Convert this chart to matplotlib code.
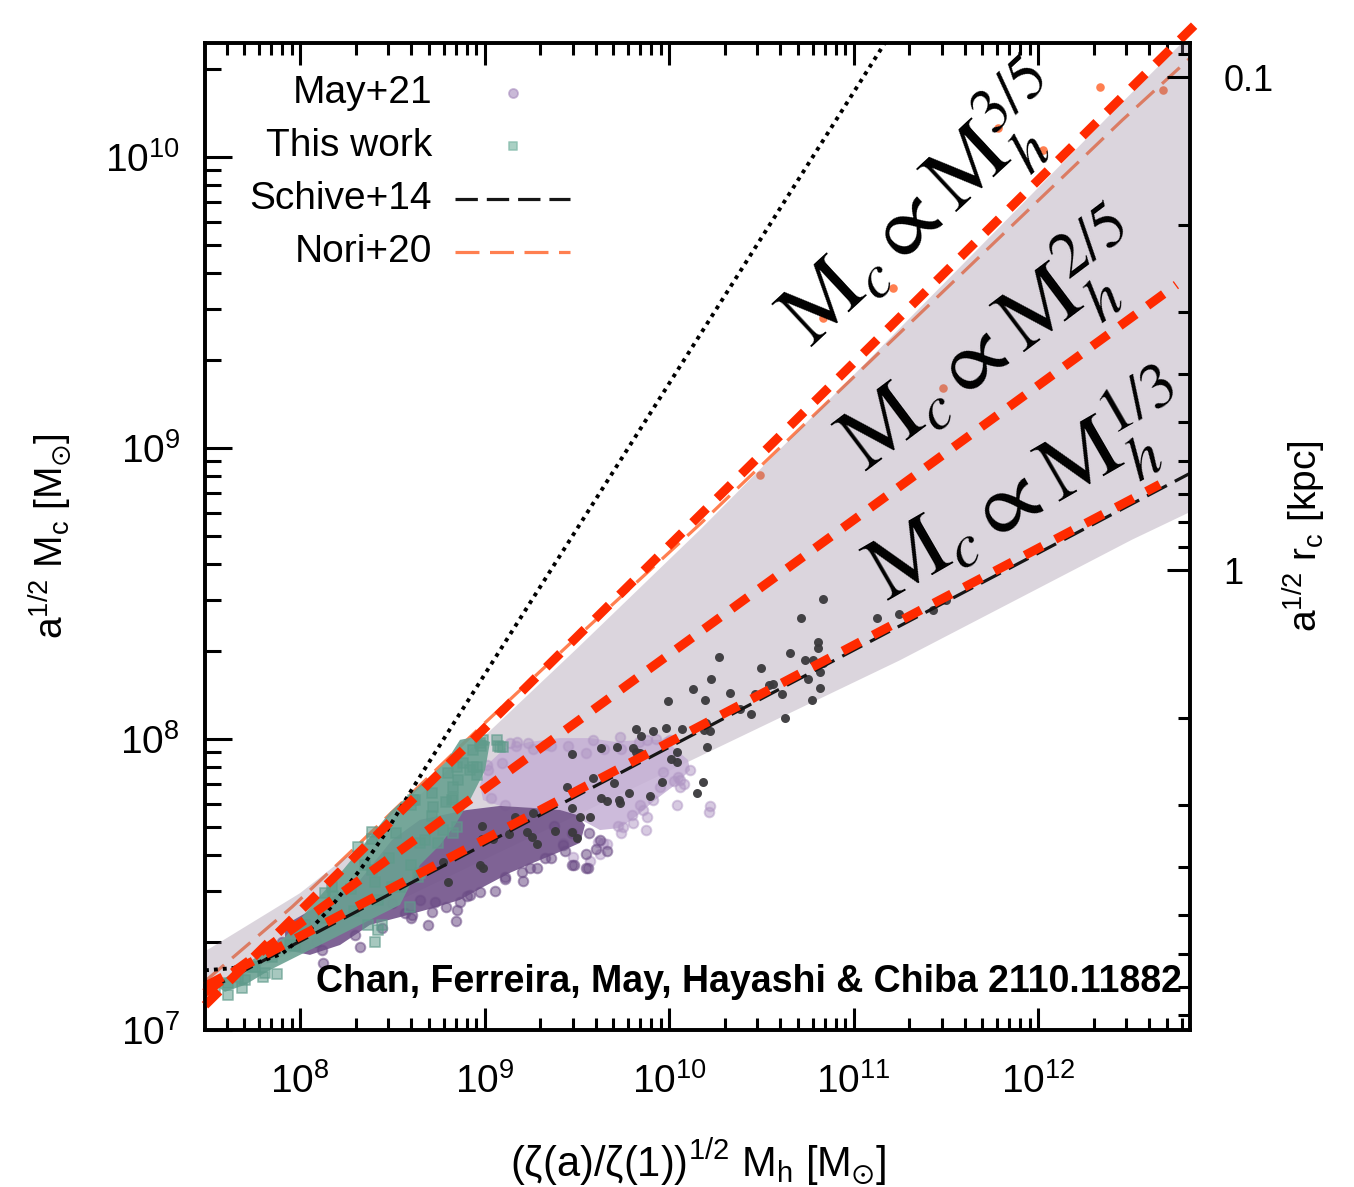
import numpy as np
import matplotlib.pyplot as plt
from matplotlib import ticker

plt.rcParams['font.family'] = ['Liberation Sans', 'DejaVu Sans']
plt.rcParams['mathtext.fontset'] = 'custom'
plt.rcParams['mathtext.rm'] = 'Liberation Sans'
plt.rcParams['mathtext.it'] = 'Liberation Sans:italic'
plt.rcParams['mathtext.bf'] = 'Liberation Sans:bold'

# ---- data (all values are log10 of the masses) ----
# dark grey simulated haloes
dark_lx = [10.835, 10.715, 10.808, 10.808, 10.656, 10.271, 10.737, 10.780, 10.835, 10.499,
           10.818, 10.753, 10.228, 10.564, 10.542, 10.130, 10.331, 10.818, 10.612, 10.466,
           10.195, 9.995, 10.775, 10.385, 10.444, 10.629, 10.201, 9.821, 9.913, 9.984,
           10.070, 9.848, 10.190, 10.222, 9.631, 9.718, 9.805, 9.821, 9.843, 10.206,
           10.043, 9.474, 10.011, 10.043, 9.588, 9.702, 9.962, 10.184, 9.447, 10.152,
           9.783, 9.897, 9.631, 9.664, 9.729, 9.734, 9.474, 9.518, 9.572, 9.165,
           9.263, 8.986, 9.382, 9.230, 9.257, 9.285, 9.474, 9.501, 8.986, 9.046,
           9.133, 8.976, 8.992, 8.802, 8.775, 11.127, 11.247, 11.431, 11.501]
dark_ly = [8.481, 8.416, 8.333, 8.313, 8.296, 8.282, 8.271, 8.271, 8.261, 8.244,
           8.230, 8.206, 8.206, 8.189, 8.186, 8.172, 8.158, 8.175, 8.155, 8.155,
           8.134, 8.131, 8.134, 8.103, 8.086, 8.072, 8.055, 8.034, 8.027, 8.038,
           8.034, 8.010, 8.031, 8.027, 7.969, 7.973, 7.969, 7.955, 7.952, 7.973,
           7.955, 7.948, 7.931, 7.921, 7.866, 7.849, 7.852, 7.852, 7.835, 7.814,
           7.814, 7.804, 7.797, 7.787, 7.790, 7.780, 7.763, 7.732, 7.732, 7.732,
           7.746, 7.701, 7.684, 7.680, 7.663, 7.639, 7.680, 7.660, 7.656, 7.656,
           7.674, 7.567, 7.557, 7.509, 7.577, 8.416, 8.430, 8.443, 8.478]

# orange haloes at the high-mass end
orange_lx = [10.493, 10.835, 11.214, 11.485, 11.783, 12.027, 12.336, 12.678]
orange_ly = [8.907, 9.447, 9.550, 9.206, 10.100, 10.024, 10.241, 10.230]

# May+21: dense cores (outline) and individually visible members
may_dark_core_lx = [7.919, 8.108, 8.325, 8.499, 8.650, 8.775, 8.905, 9.084, 9.263, 9.409,
                    9.501, 9.545, 9.518, 9.393, 9.263, 9.138, 8.992, 8.867, 8.721, 8.542,
                    8.379, 8.217, 8.054, 7.919]
may_dark_core_ly = [7.361, 7.430, 7.515, 7.653, 7.722, 7.739, 7.756, 7.770, 7.763, 7.756,
                    7.739, 7.704, 7.643, 7.608, 7.574, 7.540, 7.491, 7.447, 7.419, 7.388,
                    7.361, 7.292, 7.258, 7.275]
may_dark_lx = [8.851, 8.976, 9.203, 9.111, 8.732, 8.650, 8.607, 9.425, 8.921, 9.328,
               9.247, 8.119, 8.298, 8.569, 8.715, 7.902, 7.973, 8.499, 8.846, 8.867,
               9.209, 9.485, 9.561, 9.436, 9.664, 9.604, 8.125, 8.325,
               8.027, 8.087, 8.444, 8.602, 8.694, 8.791, 8.905, 9.057, 9.111, 9.285,
               9.360, 9.474, 9.550, 9.550, 9.626, 9.566, 9.474, 9.377]
may_dark_ly = [7.412, 7.474, 7.543, 7.526, 7.440, 7.447, 7.395, 7.636, 7.464, 7.591,
               7.557, 7.275, 7.326, 7.402, 7.405, 7.302, 7.333, 7.436, 7.375, 7.440,
               7.512, 7.567, 7.557, 7.615, 7.615, 7.622, 7.230, 7.285,
               7.289, 7.302, 7.350, 7.385, 7.361, 7.423, 7.460, 7.478, 7.519, 7.557,
               7.591, 7.567, 7.605, 7.557, 7.653, 7.677, 7.677, 7.701]

may_light_core_lx = [9.014, 9.111, 9.247, 9.409, 9.572, 9.707, 9.843, 9.978, 10.103, 10.114,
                     10.033, 9.924, 9.832, 9.734, 9.626, 9.545, 9.409, 9.247, 9.084, 8.992,
                     8.976]
may_light_core_ly = [7.911, 7.969, 7.990, 8.003, 8.003, 7.990, 7.997, 7.997, 7.928, 7.893,
                     7.842, 7.790, 7.739, 7.694, 7.687, 7.715, 7.756, 7.763, 7.770, 7.790,
                     7.842]
may_light_lx = [10.222, 10.060, 9.805, 9.881, 9.751, 9.642, 9.615, 9.572, 9.480, 9.425,
                10.005, 9.967, 10.114, 9.014, 9.138, 9.236, 9.913, 10.049, 10.060, 9.951,
                9.843, 9.859, 9.799, 9.881, 9.734, 9.589, 9.176, 9.328,
                9.171, 9.263, 9.360, 9.453, 9.550, 9.648, 9.740, 9.930, 9.989, 9.837,
                9.095, 9.019, 9.035, 9.111, 10.027, 10.081, 10.217, 10.043, 9.875, 9.740,
                9.724, 9.664, 9.626]
may_light_ly = [7.770, 7.859, 7.711, 7.732, 7.698, 7.643, 7.646, 7.581, 7.594, 7.643,
                7.997, 7.887, 7.893, 7.911, 7.986, 7.986, 7.790, 7.869, 7.835, 7.835,
                7.773, 7.756, 7.739, 7.997, 8.007, 7.997, 7.990, 7.979,
                7.976, 7.966, 7.976, 7.976, 7.952, 7.966, 7.966, 8.000, 7.990, 7.990,
                7.917, 7.893, 7.797, 7.773, 7.856, 7.845, 7.749, 7.773, 7.687, 7.677,
                7.701, 7.639, 7.605]

# This work
new_core_lx = [7.539, 7.675, 7.810, 7.920, 8.080, 8.220, 8.350, 8.490, 8.650, 8.790,
               8.867, 8.949, 9.030, 9.003, 8.921, 8.840, 8.759, 8.650, 8.596, 8.542,
               8.325, 8.163, 8.000, 7.837, 7.702, 7.593]
new_core_ly = [7.155, 7.213, 7.270, 7.320, 7.440, 7.540, 7.640, 7.750, 7.840, 7.920,
               7.997, 8.007, 7.990, 7.893, 7.790, 7.704, 7.636, 7.567, 7.498, 7.430,
               7.361, 7.309, 7.258, 7.206, 7.155, 7.131]
new_lx = [8.623, 8.390, 8.314, 8.173, 8.136, 8.390, 8.423, 8.369, 7.756, 7.664,
          7.610, 7.848, 7.810, 8.423, 8.499, 8.640, 8.748, 8.824, 8.856, 8.802,
          8.715, 8.992, 9.068, 9.100, 8.938, 8.883, 8.959, 8.851, 8.976, 9.084,
          8.938, 8.829, 8.612, 8.721, 8.775, 8.851, 8.650, 8.542, 8.650, 8.596,
          7.539, 7.702, 7.946,
          8.981, 9.073, 8.921, 8.959, 8.791, 8.829, 8.602, 8.715, 8.520, 8.678,
          8.829, 8.390, 8.482, 8.602, 8.352, 8.407, 8.520, 8.276, 8.179, 8.293,
          8.444, 8.407, 8.125, 8.027, 7.973, 7.875, 7.799, 7.686, 7.610, 7.745]
new_ly = [7.790, 7.680, 7.629, 7.491, 7.471, 7.550, 7.344, 7.361, 7.216, 7.182,
          7.161, 7.251, 7.196, 7.447, 7.491, 7.526, 7.643, 7.790, 7.859, 7.883,
          7.814, 7.997, 7.997, 7.972, 7.962, 7.917, 7.904, 7.904, 7.986, 7.972,
          7.904, 7.835, 7.790, 7.766, 7.687, 7.698, 7.643, 7.491, 7.539, 7.423,
          7.137, 7.172, 7.292,
          7.976, 7.976, 7.893, 7.876, 7.783, 7.797, 7.773, 7.735, 7.677, 7.653,
          7.677, 7.656, 7.591, 7.567, 7.567, 7.509, 7.495, 7.484, 7.460, 7.409,
          7.361, 7.302, 7.385, 7.361, 7.289, 7.192, 7.182, 7.144, 7.120, 7.216]

# scatter band of the core-halo relation
band_up_lx = [7.485, 8.0, 8.5, 9.0, 9.5, 10.17, 11.0, 12.46, 12.824]
band_up_ly = [7.27, 7.47, 7.72, 8.01, 8.31, 8.72, 9.25, 10.19, 10.42]
band_lo_lx = [7.485, 10.05, 11.25, 12.51, 12.824]
band_lo_ly = [7.125, 7.905, 8.27, 8.685, 8.78]

# literature relations
schive_lx = [7.485, 12.824]
schive_ly = [7.133, 8.913]
nori_lx = [7.49, 7.957, 8.228, 8.641, 8.978, 9.467, 10.174, 12.457, 12.824]
nori_ly = [7.17, 7.423, 7.584, 7.835, 8.041, 8.330, 8.742, 10.127, 10.34]
dotted_lx = [7.485, 7.63, 7.755, 7.902, 8.027, 8.152, 8.245, 8.337, 8.462, 8.571, 8.679, 10.174, 11.17]
dotted_ly = [7.205, 7.212, 7.228, 7.262, 7.327, 7.41, 7.485, 7.56, 7.675, 7.79, 7.9, 9.395, 10.392]

# power-law guides M_c ~ M_h^alpha
guide_labels = ['3/5', '2/5', '1/3']
guide_lx = [[7.485, 12.89], [7.485, 12.75], [7.485, 12.66]]
guide_ly = [[7.085, 10.479], [7.128, 9.561], [7.150, 8.875]]
guide_text_lx = [11.385, 11.755, 11.95]
guide_text_ly = [9.823, 9.353, 8.848]
guide_text_rot = [43, 37, 30]

legend_labels = ['May+21', 'This work', 'Schive+14', 'Nori+20']


def L(v):
    return np.power(10.0, np.asarray(v, dtype=float))


ORANGE = '#ff7f50'
RED = '#ff2a00'

fig = plt.figure(figsize=(13.54, 11.87), dpi=100)
ax = fig.add_axes([0.1514, 0.1323, 0.7275, 0.8315])
ax.set_xscale('log')
ax.set_yscale('log')
ax.set_xlim(L(7.485), L(12.824))
ax.set_ylim(L(7.0), L(10.392))

# lines and points that sit underneath the shaded band
ax.plot(L(nori_lx), L(nori_ly), color=ORANGE, lw=2.3, dashes=(7.5, 3.3), zorder=2)
ax.scatter(L(orange_lx), L(orange_ly), s=38, color=ORANGE, lw=0, zorder=2)

ax.fill(L(band_up_lx + band_lo_lx[::-1]), L(band_up_ly + band_lo_ly[::-1]),
        color='#8a7691', alpha=0.3, lw=0, zorder=3)

# May+21
ax.fill(L(may_light_core_lx), L(may_light_core_ly), color='#c5b0d5', alpha=0.85,
        lw=0, zorder=4)
ax.scatter(L(may_light_lx), L(may_light_ly), s=48, color='#b096c4', alpha=0.5,
           linewidths=1.4, zorder=4)
ax.fill(L(may_dark_core_lx), L(may_dark_core_ly), color='#74568c', alpha=0.92,
        lw=0, zorder=5)
ax.scatter(L(may_dark_lx), L(may_dark_ly), s=48, color='#6c4d86', alpha=0.55,
           linewidths=1.4, zorder=5)

# This work
ax.fill(L(new_core_lx), L(new_core_ly), color='#6aa192', alpha=0.9, lw=0, zorder=6)
ax.scatter(L(new_lx), L(new_ly), s=46, marker='s', color='#5f9b8b', alpha=0.55,
           linewidths=1.4, zorder=6)

ax.scatter(L(dark_lx), L(dark_ly), s=42, color='#3a393c', lw=0, alpha=0.95, zorder=7)

ax.plot(L(schive_lx), L(schive_ly), color='#161616', lw=2.3, dashes=(7, 2.8), zorder=7.5)
ax.plot(L(dotted_lx), L(dotted_ly), color='black', lw=2.8, dashes=(1.0, 1.3), zorder=8)

for lx, ly in zip(guide_lx, guide_ly):
    ax.plot(L(lx), L(ly), color=RED, lw=6.5, dashes=(2.2, 1.6), zorder=9, clip_on=False)

for lab, tx, ty, rot in zip(guide_labels, guide_text_lx, guide_text_ly, guide_text_rot):
    ax.text(L(tx), L(ty), r'$\mathrm{M}_c \propto \mathrm{M}_h^{%s}$' % lab,
            math_fontfamily='stix', fontsize=64, rotation=rot, rotation_mode='anchor',
            ha='center', va='center', zorder=10)

ax.text(0.992, 0.049, 'Chan, Ferreira, May, Hayashi & Chiba 2110.11882',
        transform=ax.transAxes, ha='right', va='center', fontsize=27,
        fontweight='bold', zorder=10)

# legend: labels right-aligned, samples to the right
rows = [0.9493, 0.8956, 0.8419, 0.7882]
for lab, yy in zip(legend_labels, rows):
    ax.text(0.2305, yy, lab, transform=ax.transAxes, ha='right', va='center', fontsize=28)
ax.scatter([0.3127], [rows[0]], s=42, color='#a68bbd', alpha=0.6, linewidths=1.3,
           transform=ax.transAxes, zorder=10)
ax.scatter([0.3127], [rows[1]], s=40, marker='s', color='#86bcac', alpha=0.7,
           linewidths=1.3, transform=ax.transAxes, zorder=10)
ax.plot([0.2538, 0.3706], [rows[2]] * 2, color='#161616', lw=2.3, dashes=(7, 2.8),
        transform=ax.transAxes)
ax.plot([0.2538, 0.3706], [rows[3]] * 2, color=ORANGE, lw=2.3, dashes=(7.5, 3.3),
        transform=ax.transAxes)

# axes styling
for axis in (ax.xaxis, ax.yaxis):
    axis.set_major_locator(ticker.LogLocator(base=10, numticks=20))
    axis.set_minor_locator(ticker.LogLocator(base=10, subs=np.arange(2, 10), numticks=100))
    axis.set_minor_formatter(ticker.NullFormatter())

ax.tick_params(axis='x', which='major', direction='in', length=16, width=2.2,
               top=True, bottom=True, labelsize=28, pad=24)
ax.tick_params(axis='x', which='minor', direction='in', length=8.6, width=2.2,
               top=True, bottom=True)
ax.tick_params(axis='y', which='major', direction='in', length=19.5, width=2.2,
               left=True, right=False, labelsize=28, pad=18)
ax.tick_params(axis='y', which='minor', direction='in', length=11.5, width=2.2,
               left=True, right=False)

ax.set_xlabel(r'$\mathregular{(ζ(a)/ζ(1))^{1/2}\ M_h\ [M_{\odot}]}$', fontsize=30)
ax.set_ylabel(r'$\mathregular{a^{1/2}\ M_c\ [M_{\odot}]}$', fontsize=28)
ax.xaxis.set_label_coords(0.5, -0.108)
ax.yaxis.set_label_coords(-0.133, 0.5)

# core radius axis on the right
ax2 = ax.twinx()
ax2.set_yscale('log')
ax2.set_ylim(8.57, 0.0853)
ax2.yaxis.set_major_locator(ticker.FixedLocator([0.1, 1]))
ax2.yaxis.set_major_formatter(ticker.FixedFormatter(['0.1', '1']))
ax2.yaxis.set_minor_locator(ticker.LogLocator(base=10, subs=np.arange(2, 10), numticks=100))
ax2.yaxis.set_minor_formatter(ticker.NullFormatter())
ax2.tick_params(axis='y', which='major', direction='in', length=16.5, width=2.2,
                labelsize=26, pad=24)
ax2.tick_params(axis='y', which='minor', direction='in', length=8.6, width=2.2)
ax2.set_ylabel(r'$\mathregular{a^{1/2}\ r_c\ [kpc]}$', fontsize=28)
ax2.yaxis.set_label_coords(1.092, 0.5)

for a in (ax, ax2):
    for sp in a.spines.values():
        sp.set_linewidth(2.6)

fig.savefig('out.png', dpi=100)
